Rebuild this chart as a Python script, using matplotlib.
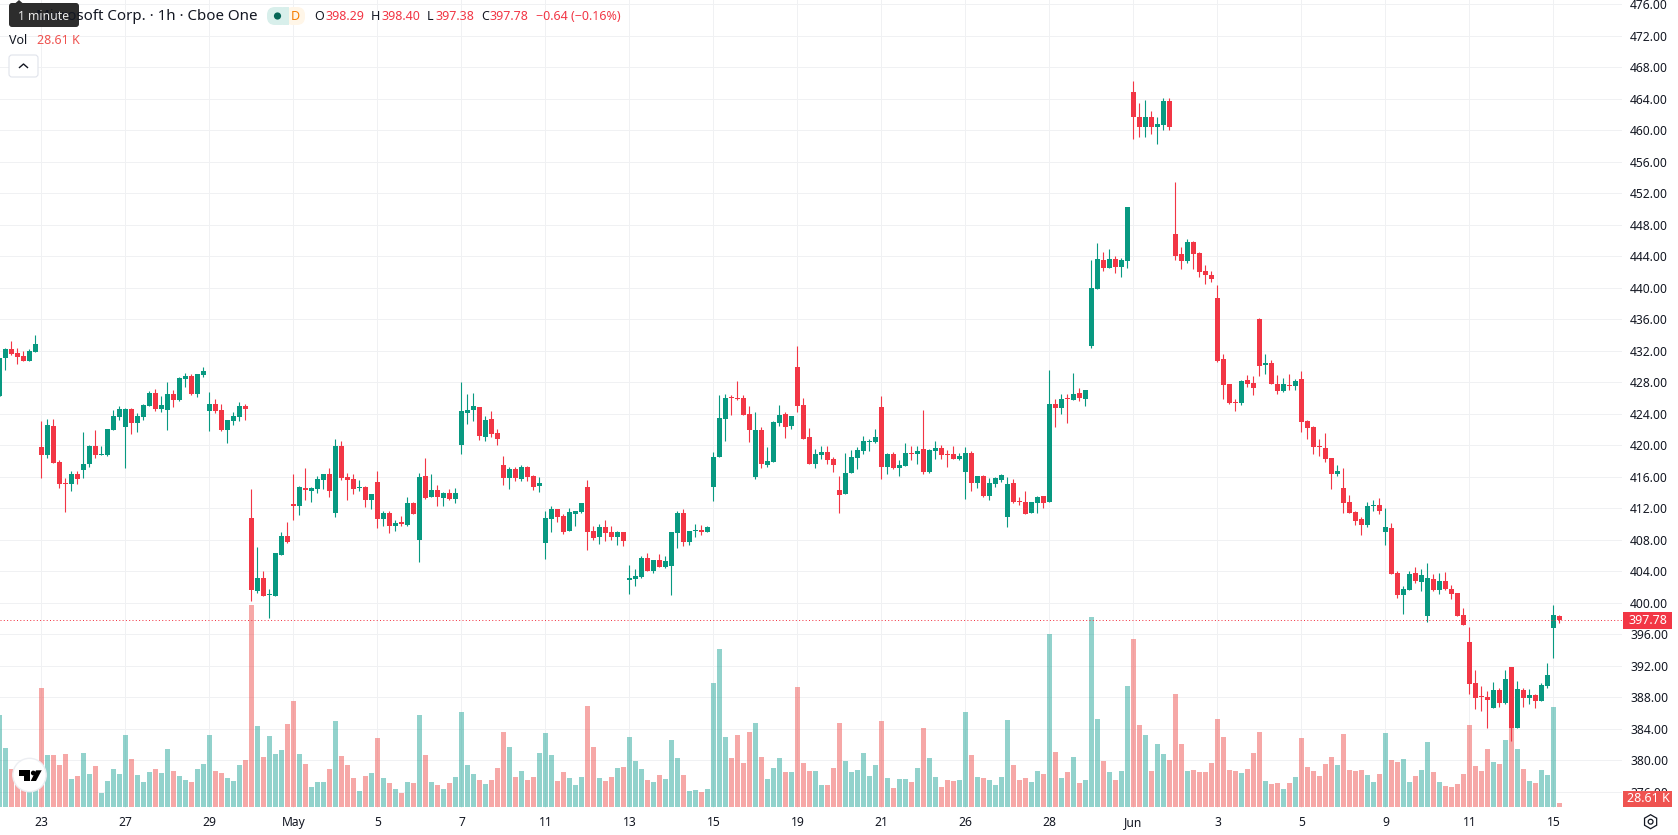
import matplotlib
matplotlib.use('Agg')
import matplotlib.pyplot as plt
from matplotlib.patches import Circle, FancyBboxPatch, Polygon, Rectangle, RegularPolygon
import numpy as np

plt.rcParams['font.family'] = ['Noto Sans', 'DejaVu Sans']

# Hourly candles, 7 per session
opens = [426.25, 431.07, 432.2, 431.7, 431.3, 430.7, 431.85, 419.8, 418.76, 422.43,
         417.87, 415.2, 415.07, 416.34, 416.85, 417.6, 419.9, 418.76, 418.76, 421.93,
         423.58, 422.3, 424.6, 422.83, 423.58, 424.97, 426.62, 424.6, 424.47, 426.5,
         425.74, 428.4, 428.8, 426.5, 428.9, 424.34, 425.23, 424.47, 421.93, 423.07,
         423.58, 425.0, 410.75, 401.5, 403.15, 401.0, 400.85, 406.05, 408.47, 412.5,
         412.28, 414.57, 414.2, 414.44, 415.58, 416.34, 411.4, 419.9, 415.96, 415.7,
         414.57, 414.7, 413.04, 415.3, 410.6, 411.4, 409.75, 410.25, 409.87, 412.66,
         407.96, 416.09, 413.42, 414.31, 413.3, 413.93, 413.17, 420.03, 424.09, 424.47,
         424.85, 421.04, 423.33, 421.55, 417.49, 415.84, 416.98, 415.71, 417.23, 416.09,
         414.82, 407.58, 410.63, 411.9, 411.01, 409.1, 411.26, 411.52, 414.69, 409.1,
         408.34, 409.61, 408.98, 408.34, 408.98, 402.88, 403.0, 403.26, 405.68, 404.03,
         405.42, 404.53, 404.66, 408.85, 411.39, 407.71, 409.1, 409.23, 408.98, 414.69,
         418.5, 423.33, 426.12, 426.0, 426.0, 423.96, 415.96, 421.93, 417.49, 417.87,
         422.82, 423.96, 422.43, 429.93, 425.1, 421.04, 417.61, 418.76, 419.14, 418.25,
         414.31, 413.8, 416.47, 418.37, 419.26, 420.41, 420.41, 424.85, 417.23, 418.88,
         417.1, 417.36, 419.01, 418.88, 419.52, 416.6, 419.26, 419.64, 418.88, 418.88,
         418.25, 416.6, 419.01, 415.2, 416.09, 413.55, 415.07, 415.58, 410.88, 415.2,
         412.91, 412.79, 411.39, 412.66, 413.55, 412.79, 425.23, 424.72, 426.0, 425.74,
         426.63, 425.87, 432.6, 439.83, 443.52, 442.5, 443.64, 442.63, 443.39, 464.85,
         461.68, 460.41, 461.68, 460.41, 460.66, 463.71, 446.82, 444.28, 443.39, 445.8,
         444.41, 442.12, 441.61, 438.69, 430.95, 427.77, 425.49, 425.36, 428.28, 427.9,
         436.02, 430.18, 430.44, 427.77, 426.88, 427.64, 427.51, 428.41, 423.07, 422.31,
         419.9, 419.64, 418.37, 416.34, 414.57, 412.79, 411.52, 410.63, 409.87, 412.28,
         412.41, 408.98, 409.49, 403.77, 400.98, 401.61, 403.77, 402.63, 398.31, 403.01,
         401.61, 402.76, 401.74, 401.23, 398.44, 395.01, 389.8, 388.16, 388.03, 386.63,
         388.91, 387.26, 391.83, 384.1, 388.91, 387.9, 388.28, 387.52, 389.42, 396.79,
         398.29]
highs = [431.07, 432.35, 433.2, 432.35, 432.0, 432.2, 434.0, 423.07, 423.33, 423.33,
         418.13, 415.83, 416.7, 416.7, 421.7, 420.03, 421.93, 419.9, 422.05, 424.47,
         424.98, 424.7, 424.7, 424.1, 425.23, 426.87, 427.13, 426.25, 428.03, 427.0,
         428.66, 429.2, 429.05, 429.05, 429.9, 426.75, 425.86, 425.23, 423.2, 424.2,
         425.5, 425.2, 414.4, 407.1, 404.0, 401.7, 406.3, 409.0, 410.25, 416.35,
         414.83, 417.1, 414.7, 416.1, 416.34, 417.1, 420.8, 420.5, 416.47, 416.34,
         415.6, 414.83, 413.8, 416.7, 411.65, 411.65, 410.5, 411.0, 413.4, 412.8,
         416.47, 418.37, 416.34, 414.95, 414.06, 414.44, 414.57, 428.03, 426.5, 426.63,
         424.85, 423.7, 424.34, 422.06, 418.63, 417.23, 417.23, 417.49, 417.36, 416.22,
         415.96, 411.64, 412.28, 411.9, 411.26, 412.03, 411.64, 412.66, 415.58, 409.74,
         409.99, 410.5, 409.74, 409.1, 408.98, 404.79, 404.28, 405.93, 406.31, 405.42,
         406.18, 405.93, 408.98, 411.64, 411.9, 409.1, 409.99, 409.87, 409.74, 419.14,
         426.37, 426.5, 426.37, 428.15, 426.37, 424.98, 424.2, 422.31, 419.77, 423.07,
         425.1, 424.2, 423.7, 432.6, 426.0, 422.19, 419.52, 419.9, 419.9, 418.5,
         416.09, 419.05, 419.39, 419.77, 421.17, 420.79, 422.06, 426.25, 419.01, 419.14,
         418.12, 420.28, 419.9, 419.9, 424.47, 419.52, 420.53, 420.03, 419.39, 419.9,
         419.01, 419.77, 419.26, 416.09, 416.22, 415.84, 415.96, 416.34, 415.96, 415.71,
         413.42, 414.18, 412.79, 413.55, 413.55, 429.55, 425.87, 426.5, 426.5, 429.17,
         427.27, 427.01, 443.52, 445.67, 444.53, 444.91, 444.03, 443.77, 450.25, 466.25,
         463.45, 463.84, 462.43, 461.68, 464.09, 464.09, 453.42, 445.17, 446.19, 445.93,
         444.53, 442.88, 442.12, 440.34, 431.58, 427.77, 425.87, 428.28, 428.92, 428.79,
         436.15, 431.58, 430.82, 428.92, 428.53, 429.04, 428.41, 429.42, 423.2, 422.44,
         420.79, 421.55, 418.37, 417.49, 417.1, 413.68, 411.64, 410.88, 412.79, 413.04,
         413.3, 412.03, 410.12, 404.02, 402.12, 404.02, 404.53, 404.28, 405.04, 403.64,
         403.77, 403.9, 402.25, 401.23, 399.33, 396.91, 391.45, 389.42, 388.79, 389.93,
         389.17, 391.45, 391.83, 390.06, 389.17, 389.04, 388.41, 389.8, 392.34, 399.71,
         398.4]
lows = [426.25, 429.55, 431.45, 430.3, 430.7, 430.7, 431.85, 415.83, 418.38, 417.74,
        414.57, 411.5, 414.2, 415.07, 415.83, 417.2, 418.38, 418.76, 418.63, 421.93,
        423.2, 417.1, 421.43, 421.67, 423.2, 424.97, 424.34, 424.2, 421.93, 424.85,
        425.6, 427.4, 426.4, 426.1, 428.66, 421.8, 424.1, 421.8, 420.3, 422.56,
        423.07, 423.2, 400.2, 401.25, 400.85, 398.05, 400.85, 406.05, 407.6, 410.5,
        411.14, 413.04, 412.8, 413.93, 414.44, 413.43, 410.9, 415.6, 413.04, 413.8,
        414.2, 412.15, 411.9, 409.5, 409.75, 408.85, 409.1, 409.75, 409.75, 411.26,
        405.2, 413.17, 413.42, 412.28, 412.28, 413.04, 412.66, 418.88, 422.69, 423.07,
        420.66, 420.53, 421.04, 420.03, 414.95, 414.44, 415.46, 415.46, 415.46, 414.31,
        414.06, 405.55, 408.98, 410.25, 408.72, 409.1, 409.74, 411.39, 406.69, 407.96,
        407.46, 407.84, 407.96, 407.33, 407.2, 401.1, 402.12, 403.14, 404.03, 403.77,
        404.53, 404.41, 400.98, 406.95, 407.2, 407.33, 408.34, 408.6, 408.98, 412.91,
        418.5, 420.53, 423.83, 425.74, 423.83, 420.41, 415.71, 417.1, 417.23, 417.87,
        422.43, 420.91, 422.06, 424.2, 420.79, 417.61, 417.1, 418.25, 417.61, 416.6,
        411.39, 413.8, 416.47, 416.98, 418.88, 419.26, 420.28, 415.71, 416.34, 416.98,
        416.09, 417.36, 418.12, 417.61, 416.34, 416.47, 418.25, 418.25, 417.23, 418.25,
        418.12, 413.17, 414.18, 414.57, 413.42, 413.04, 414.69, 415.33, 409.61, 412.66,
        412.41, 411.26, 411.39, 411.39, 412.03, 412.79, 422.31, 423.96, 422.82, 425.74,
        425.62, 424.98, 432.34, 439.83, 442.12, 442.5, 441.87, 441.36, 442.5, 458.88,
        459.13, 459.13, 459.51, 458.25, 460.03, 460.03, 443.52, 442.38, 443.14, 442.38,
        441.36, 440.47, 440.72, 430.57, 425.87, 425.23, 424.34, 425.1, 427.39, 426.37,
        428.79, 429.04, 427.77, 426.5, 426.76, 427.01, 427.01, 421.68, 420.79, 418.88,
        418.63, 417.87, 414.44, 416.09, 411.39, 411.39, 409.87, 408.6, 409.61, 411.64,
        411.26, 407.33, 403.64, 400.6, 398.57, 401.61, 402.5, 401.49, 397.55, 401.49,
        401.1, 401.61, 400.47, 398.31, 397.17, 388.41, 386.5, 386.25, 384.1, 386.63,
        386.76, 387.13, 382.4, 384.1, 386.76, 387.13, 386.63, 387.52, 389.17, 392.98,
        397.38]
closes = [431.07, 432.2, 431.6, 431.2, 430.7, 432.0, 432.85, 418.75, 422.56, 417.74,
          415.07, 415.07, 416.34, 415.7, 417.6, 419.9, 418.76, 418.88, 422.05, 423.7,
          424.6, 424.6, 422.83, 423.7, 425.1, 426.62, 424.6, 425.1, 426.5, 425.74,
          428.53, 428.8, 426.5, 429.05, 429.4, 425.23, 424.34, 421.93, 423.2, 423.7,
          425.0, 424.6, 401.6, 403.15, 400.85, 401.1, 406.3, 408.47, 407.7, 412.3,
          414.7, 414.3, 414.57, 415.7, 416.34, 414.2, 419.9, 415.83, 415.6, 414.44,
          414.7, 413.04, 413.8, 410.6, 411.4, 409.75, 410.1, 410.0, 412.66, 411.26,
          415.96, 413.3, 414.31, 413.42, 413.93, 413.17, 413.93, 424.34, 424.47, 424.98,
          421.17, 423.2, 421.42, 420.79, 415.84, 416.98, 415.84, 417.23, 415.96, 414.69,
          415.2, 410.76, 411.9, 410.88, 408.98, 411.52, 411.64, 412.66, 408.98, 408.22,
          409.61, 408.85, 408.34, 408.98, 407.84, 403.14, 403.39, 405.68, 404.03, 405.42,
          404.53, 405.3, 408.98, 411.39, 407.71, 409.1, 409.23, 408.98, 409.61, 418.5,
          423.45, 426.0, 426.0, 425.87, 423.83, 421.93, 421.93, 417.61, 417.99, 422.94,
          423.83, 422.31, 423.7, 424.98, 420.79, 417.61, 418.88, 419.14, 418.12, 417.49,
          413.67, 416.47, 418.5, 419.39, 420.53, 420.53, 421.04, 417.23, 418.88, 417.1,
          417.49, 419.01, 418.88, 419.26, 416.6, 419.39, 419.64, 418.76, 418.76, 418.25,
          418.63, 419.01, 415.2, 416.09, 413.55, 415.2, 415.84, 416.22, 415.07, 412.79,
          412.79, 411.26, 412.79, 413.42, 412.66, 425.23, 424.72, 425.87, 425.87, 426.5,
          426.0, 427.01, 439.96, 443.64, 442.5, 443.64, 442.63, 443.52, 450.25, 461.68,
          460.41, 461.68, 460.41, 460.79, 463.71, 460.41, 444.03, 443.39, 445.8, 444.28,
          441.99, 441.61, 441.1, 430.69, 427.64, 425.36, 425.36, 428.15, 427.77, 427.26,
          430.06, 430.44, 427.77, 426.88, 427.77, 427.51, 428.15, 422.95, 422.18, 419.77,
          419.77, 418.25, 416.34, 416.72, 412.66, 411.39, 410.37, 409.87, 412.28, 412.41,
          411.64, 409.61, 403.64, 400.98, 401.74, 403.64, 402.76, 403.52, 403.14, 401.61,
          402.76, 401.74, 401.1, 398.31, 397.17, 389.68, 387.9, 388.03, 387.65, 388.91,
          387.26, 390.31, 384.1, 389.04, 387.9, 388.28, 387.52, 389.55, 390.82, 398.44,
          397.78]
# Volume per candle, thousands of shares
volumes = [658, 422, 272, 272, 272, 229, 215, 851, 372, 372,
           300, 379, 200, 222, 386, 236, 293, 100, 186, 272,
           236, 515, 343, 229, 179, 250, 272, 243, 415, 257,
           222, 193, 179, 272, 308, 515, 257, 243, 207, 186,
           300, 336, 1445, 579, 358, 508, 379, 408, 594, 758,
           379, 308, 143, 179, 179, 272, 615, 365, 300, 207,
           114, 222, 243, 493, 207, 172, 129, 100, 179, 172,
           658, 372, 179, 157, 129, 172, 215, 679, 300, 236,
           193, 164, 193, 279, 536, 429, 215, 257, 193, 215,
           386, 529, 372, 186, 250, 207, 157, 215, 722, 429,
           207, 186, 215, 279, 286, 501, 329, 272, 193, 179,
           229, 200, 479, 350, 229, 114, 122, 107, 129, 887,
           1130, 501, 350, 515, 315, 536, 601, 358, 200, 279,
           350, 250, 250, 858, 315, 257, 257, 157, 157, 279,
           601, 329, 250, 265, 386, 222, 300, 615, 207, 136,
           200, 200, 179, 279, 565, 350, 215, 143, 193, 186,
           193, 679, 372, 215, 207, 193, 157, 215, 622, 300,
           193, 207, 179, 257, 236, 1237, 393, 207, 250, 358,
           172, 193, 1359, 629, 329, 250, 193, 257, 865, 1202,
           586, 515, 257, 451, 379, 336, 808, 451, 257, 265,
           250, 250, 315, 629, 501, 265, 257, 243, 272, 386,
           536, 186, 164, 172, 129, 172, 215, 493, 286, 257,
           222, 308, 358, 300, 522, 265, 257, 265, 229, 179,
           236, 529, 336, 322, 343, 179, 222, 265, 465, 250,
           179, 150, 143, 164, 236, 586, 293, 257, 415, 322,
           308, 479, 629, 415, 272, 186, 172, 265, 229, 715,
           28.61]

xtick_labels = ['23', '27', '29', 'May', '5', '7', '11', '13', '15', '19',
                '21', '26', '28', 'Jun', '3', '5', '9', '11', '15']
price_ticks = np.arange(376, 477, 4)
last_price = closes[-1]
last_volume = volumes[-1]

GREEN = '#089981'
RED = '#f23645'
VOL_GREEN = '#26a69a'
VOL_RED = '#ef5350'
TEXT = '#131722'
GRID = '#f0f1f3'

W, H = 1678, 835
PANE_R, PANE_B = 1622, 808

x = np.arange(len(closes))
o, h, l, c = map(np.array, (opens, highs, lows, closes))
up = c >= o
colors = np.where(up, GREEN, RED)
vol_colors = np.where(up, VOL_GREEN, VOL_RED)

fig = plt.figure(figsize=(W / 100, H / 100), dpi=100, facecolor='white')
rect = [0, 1 - PANE_B / H, PANE_R / W, PANE_B / H]
xlim = (0.5 / 6, (PANE_R + 0.5) / 6)
price_lim = (373.93, 476.53)

# grid and price scale at the back
ax_grid = fig.add_axes(rect, zorder=1)
ax_grid.set_xlim(xlim)
ax_grid.set_ylim(price_lim)
ax_grid.yaxis.tick_right()
ax_grid.set_yticks(price_ticks, [f'{p:.2f}' for p in price_ticks])
ax_grid.set_xticks(7 + 14 * np.arange(len(xtick_labels)), xtick_labels)
ax_grid.tick_params(axis='both', length=0, labelsize=8.7, labelcolor=TEXT)
ax_grid.tick_params(axis='y', pad=5.8)
ax_grid.tick_params(axis='x', pad=5.6)
for lab in ax_grid.get_xticklabels():
    if lab.get_text() in ('May', 'Jun'):
        lab.set_fontweight('bold')
ax_grid.grid(True, color=GRID, linewidth=0.72)
for s in ax_grid.spines.values():
    s.set_visible(False)

# volume bars, own scale
ax_vol = fig.add_axes(rect, zorder=2)
ax_vol.patch.set_visible(False)
ax_vol.set_xlim(xlim)
ax_vol.set_ylim(-7.15, 5772)
ax_vol.bar(x, volumes, width=5 / 6, color=vol_colors, alpha=0.5, linewidth=0)
ax_vol.axis('off')

# candles
ax = fig.add_axes(rect, zorder=3)
ax.patch.set_visible(False)
ax.set_xlim(xlim)
ax.set_ylim(price_lim)
ax.vlines(x, l, h, colors=colors, linewidth=0.8)
ax.bar(x, np.abs(c - o), bottom=np.minimum(o, c), width=5 / 6, color=colors, linewidth=0)
ax.axhline(last_price, color=RED, linewidth=0.72, linestyle=(0, (1, 2.3)))
ax.axis('off')

# header, labels and small icons, placed in figure pixels
ui = fig.add_axes([0, 0, 1, 1], zorder=4)
ui.patch.set_visible(False)
ui.set_xlim(0, W)
ui.set_ylim(H, 0)
ui.axis('off')

ui.text(257, 16, 'Microsoft Corp. · 1h · Cboe One', ha='right', va='center', fontsize=10.9, color=TEXT)

# tooltip over the start of the title
ui.add_patch(Polygon([(15, 3.5), (19, 0), (23, 3.5)], color='#2d2d2d', linewidth=0))
ui.add_patch(FancyBboxPatch((11, 5), 66, 20, boxstyle='round,pad=2,rounding_size=3',
                            facecolor='#2d2d2d', edgecolor='none'))
ui.text(44, 16, '1 minute', ha='center', va='center', fontsize=8.8, color='#e8e8e8')

# market status pill
ui.add_patch(FancyBboxPatch((269, 9), 18, 14, boxstyle='round,pad=2,rounding_size=8',
                            facecolor='#d8efeb', edgecolor='none'))
ui.add_patch(FancyBboxPatch((287, 9), 16, 14, boxstyle='round,pad=2,rounding_size=8',
                            facecolor='#fff6e8', edgecolor='none'))
ui.add_patch(Rectangle((283, 7), 6, 18, facecolor='#d8efeb', edgecolor='none'))
ui.add_patch(Circle((277.5, 16), 3.6, facecolor='#056656', edgecolor='none'))
ui.text(295.5, 16, 'D', ha='center', va='center', fontsize=9, color='#f57c00')

ohlc = [(314, 'O', 326, opens[-1]), (371, 'H', 382, highs[-1]),
        (427, 'L', 435, lows[-1]), (481, 'C', 490, closes[-1])]
for x0, letter, x1, val in ohlc:
    ui.text(x0, 16, letter, ha='left', va='center', fontsize=9, color=TEXT)
    ui.text(x1, 16, f'{val:.2f}', ha='left', va='center', fontsize=9, color=RED)
ui.text(535.5, 16, '−0.64 (−0.16%)', ha='left', va='center', fontsize=9, color=RED)

ui.text(9, 41, 'Vol', ha='left', va='center', fontsize=9, color=TEXT)
ui.text(37, 41, f'{last_volume} K', ha='left', va='center', fontsize=9, color=VOL_RED)

# collapse button
ui.add_patch(FancyBboxPatch((11, 57), 25, 18, boxstyle='round,pad=2,rounding_size=3',
                            facecolor='white', edgecolor='#e0e3eb', linewidth=0.8))
ui.plot([19.5, 23.5, 27.5], [67.5, 64, 67.5], color=TEXT, linewidth=1)

# last price and last volume tags
for y0, y1, col, txt in [(612, 628.7, RED, f'{last_price:.2f}'),
                         (791, 806.7, VOL_RED, f'{last_volume} K')]:
    ui.add_patch(Rectangle((1623, y0), 49, y1 - y0, facecolor=col, edgecolor='none'))
    ui.text(1648, (y0 + y1) / 2, txt, ha='center', va='center', fontsize=9, color='white')

# settings button
ui.add_patch(RegularPolygon((1650.6, 821.7), 6, radius=7, orientation=0, facecolor='white',
                            edgecolor=TEXT, linewidth=0.9))
ui.add_patch(Circle((1650.6, 821.7), 2.4, facecolor='white', edgecolor=TEXT, linewidth=0.9))

# watermark badge
ui.add_patch(Circle((29.5, 775), 16.7, facecolor='white', edgecolor='#eceef2', linewidth=1))
ui.add_patch(Polygon([(19, 770.3), (30, 770.3), (30, 781), (24.3, 781), (24.3, 775.7), (19, 775.7)],
                     facecolor='black', edgecolor='none'))
ui.add_patch(Circle((33.3, 773), 2.4, facecolor='black', edgecolor='none'))
ui.add_patch(Polygon([(36, 770.3), (41.7, 770.3), (36, 781), (30.7, 781)], facecolor='black', edgecolor='none'))

fig.savefig('out.png', dpi=100)
